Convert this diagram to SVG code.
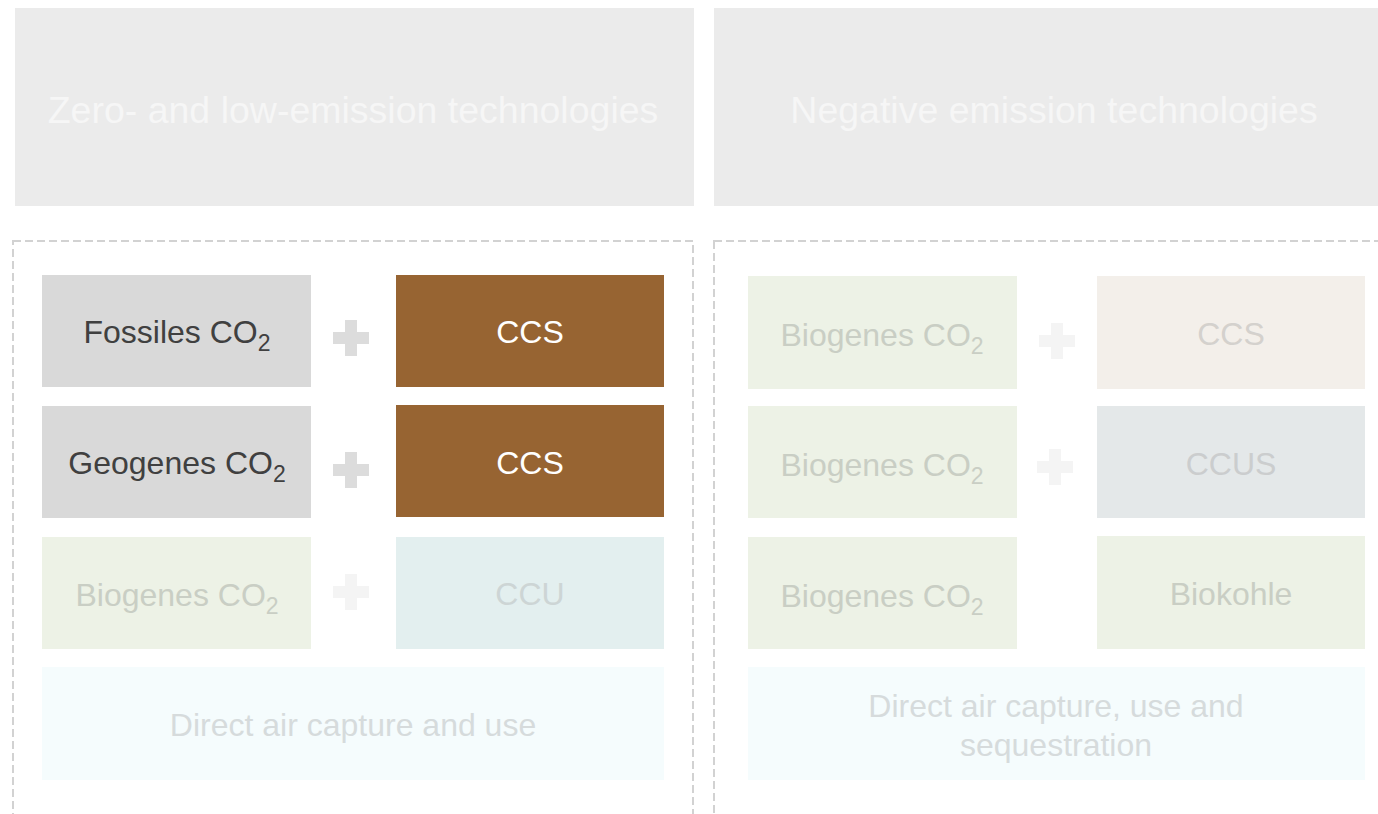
<svg xmlns="http://www.w3.org/2000/svg" width="1378" height="814" viewBox="0 0 1378 814">
<style>
text{font-family:"Liberation Sans",Arial,sans-serif;text-anchor:middle}
.hdr{fill:#ebebeb}
.htx{fill:#f6f6f6;font-size:37.5px}
.frame{fill:none;stroke:#d2d2d2;stroke-width:2;stroke-dasharray:8 4}
.t{font-size:32px}
.sub{font-size:23px}
.gray{fill:#d9d9d9}
.brown{fill:#976432}
.bio{fill:#edf2e6}
.biot{fill:#c9cec4}
.plus{fill:#dcdcdc}
.plusf{fill:#f4f4f4}
</style>
<defs>
<path id="plus" d="M-6,-18h12v12h12v12h-12v12h-12v-12h-12v-12h12z"/>
</defs>
<rect width="1378" height="814" fill="#ffffff"/>
<g id="header-left"><rect class="hdr" x="15" y="8" width="679" height="198"/><text class="htx" x="353" y="123">Zero- and low-emission technologies</text></g>
<g id="header-right"><rect class="hdr" x="714" y="8" width="670" height="198"/><text class="htx" x="1054" y="123">Negative emission technologies</text></g>
<g id="frame-left"><rect class="frame" x="13" y="241" width="680" height="600"/></g>
<g id="frame-right"><rect class="frame" x="714" y="241" width="700" height="600"/></g>

<g id="fossiles"><rect class="gray" x="42" y="275" width="269" height="112"/><text class="t" x="177" y="343" fill="#404040">Fossiles CO<tspan class="sub" dy="8">2</tspan></text></g>
<g id="ccs1"><rect class="brown" x="396" y="275" width="268" height="112"/><text class="t" x="530" y="343" fill="#ffffff">CCS</text></g>
<g id="geogenes"><rect class="gray" x="42" y="406" width="269" height="112"/><text class="t" x="177" y="474" fill="#404040">Geogenes CO<tspan class="sub" dy="8">2</tspan></text></g>
<g id="ccs2"><rect class="brown" x="396" y="405" width="268" height="112"/><text class="t" x="530" y="474" fill="#ffffff">CCS</text></g>
<g id="biogenes-l"><rect class="bio" x="42" y="537" width="269" height="112"/><text class="t biot" x="177" y="606">Biogenes CO<tspan class="sub" dy="8">2</tspan></text></g>
<g id="ccu"><rect fill="#e3efef" x="396" y="537" width="268" height="112"/><text class="t" x="530" y="605" fill="#cdd5d5">CCU</text></g>
<g id="dac-l"><rect fill="#f5fcfd" x="42" y="667" width="622" height="113"/><text class="t" x="353" y="736" fill="#d6dbdc">Direct air capture and use</text></g>

<g id="biogenes-r1"><rect class="bio" x="748" y="276" width="269" height="113"/><text class="t biot" x="882" y="346">Biogenes CO<tspan class="sub" dy="8">2</tspan></text></g>
<g id="ccs-r"><rect fill="#f3efea" x="1097" y="276" width="268" height="113"/><text class="t" x="1231" y="345" fill="#d4d1cd">CCS</text></g>
<g id="biogenes-r2"><rect class="bio" x="748" y="406" width="269" height="112"/><text class="t biot" x="882" y="476">Biogenes CO<tspan class="sub" dy="8">2</tspan></text></g>
<g id="ccus"><rect fill="#e4e8e9" x="1097" y="406" width="268" height="112"/><text class="t" x="1231" y="475" fill="#cbcdce">CCUS</text></g>
<g id="biogenes-r3"><rect class="bio" x="748" y="537" width="269" height="112"/><text class="t biot" x="882" y="607">Biogenes CO<tspan class="sub" dy="8">2</tspan></text></g>
<g id="biokohle"><rect class="bio" x="1097" y="536" width="268" height="113"/><text class="t biot" x="1231" y="605">Biokohle</text></g>
<g id="dac-r"><rect fill="#f5fcfd" x="748" y="667" width="617" height="113"/><text class="t" x="1056" y="717" fill="#d6dbdc">Direct air capture, use and</text><text class="t" x="1056" y="756" fill="#d6dbdc">sequestration</text></g>

<g id="connectors">
<use href="#plus" class="plus" x="351" y="338"/>
<use href="#plus" class="plus" x="351" y="470"/>
<use href="#plus" class="plusf" x="351" y="592"/>
<use href="#plus" class="plusf" x="1057" y="341"/>
<use href="#plus" class="plusf" x="1055" y="467"/>
</g>
</svg>
